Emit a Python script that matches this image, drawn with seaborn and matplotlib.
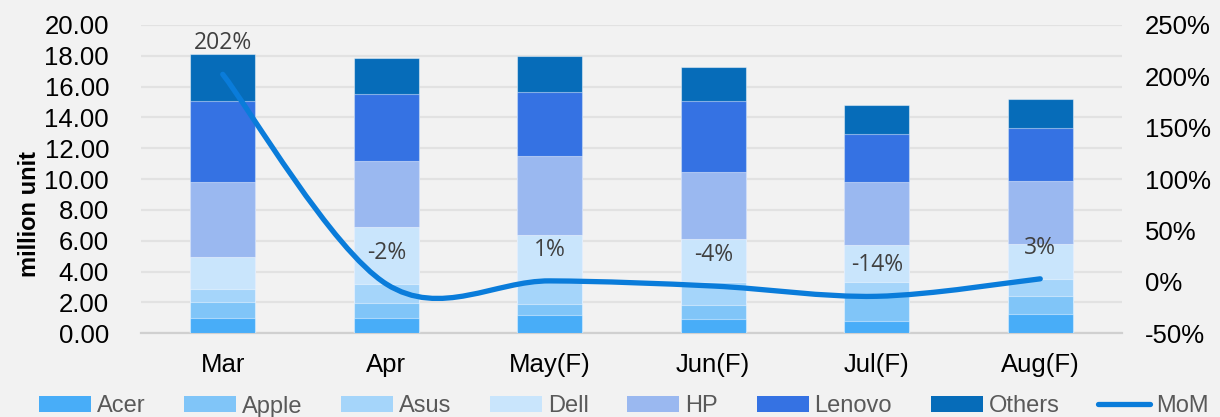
import matplotlib
matplotlib.use("Agg")
import matplotlib.pyplot as plt
import seaborn as sns
import numpy as np
import pandas as pd
from matplotlib.path import Path
from matplotlib.patches import PathPatch, Patch
from matplotlib.lines import Line2D
from matplotlib import font_manager
from matplotlib.ticker import FuncFormatter, MultipleLocator

# ---------------- data ----------------
months = ["Mar", "Apr", "May(F)", "Jun(F)", "Jul(F)", "Aug(F)"]
brands = ["Acer", "Apple", "Asus", "Dell", "HP", "Lenovo", "Others"]
acer   = [1.02, 1.02, 1.21, 0.93, 0.82, 1.28]
apple  = [1.01, 0.97, 0.69, 0.91, 1.62, 1.14]
asus   = [0.87, 1.19, 1.45, 1.51, 0.91, 1.10]
dell   = [2.07, 3.74, 3.03, 2.75, 2.38, 2.25]
hp     = [4.85, 4.26, 5.12, 4.36, 4.09, 4.11]
lenovo = [5.23, 4.32, 4.13, 4.59, 3.09, 3.42]
others = [3.07, 2.34, 2.36, 2.25, 1.90, 1.92]
mom    = [2.02, -0.02, 0.01, -0.04, -0.14, 0.03]
mom_name = "MoM"

colors = ["#48ADF8", "#80C5F8", "#A5D5FA", "#C9E5FC", "#9AB8F0", "#3572E3", "#066CB9"]
line_color = "#0A7CDA"
bg = "#F2F2F2"

# ---------------- fonts ----------------
def has_font(name):
    try:
        font_manager.findfont(name, fallback_to_default=False)
        return True
    except Exception:
        return False

tick_font = "Liberation Sans" if has_font("Liberation Sans") else "DejaVu Sans"
label_font = "Open Sans" if has_font("Open Sans") else tick_font
legend_font = tick_font
legend_size = 17

sns.set_theme(style="white")
plt.rcParams["font.family"] = [tick_font, "DejaVu Sans"]
plt.rcParams["figure.facecolor"] = bg
plt.rcParams["axes.facecolor"] = bg

df = pd.DataFrame({"month": months, "Acer": acer, "Apple": apple, "Asus": asus,
                   "Dell": dell, "HP": hp, "Lenovo": lenovo, "Others": others})
cum = df[brands].cumsum(axis=1)

fig = plt.figure(figsize=(12.2, 4.17), dpi=100)
ax = fig.add_axes([141/1220, 1 - 333.3/417, 981/1220, 308.3/417])
ax.set_facecolor(bg)

# stacked bars via cumulative layers (tallest first)
for b, c in reversed(list(zip(brands, colors))):
    sns.barplot(x=df["month"], y=cum[b], color=c, width=0.4, saturation=1,
                edgecolor=(1, 1, 1, 0.45), linewidth=0.8, ax=ax, zorder=3)

ax.set_ylim(0, 20)
ax.yaxis.set_major_locator(MultipleLocator(2))
ax.yaxis.set_major_formatter(FuncFormatter(lambda v, p: f"{v:.2f}"))
ax.set_xlim(-0.5, 5.5)
ax.grid(axis="y", color="#E2E2E2", linewidth=1.6, zorder=0)
ax.set_axisbelow(True)
for s in ["left", "right", "top"]:
    ax.spines[s].set_visible(False)
ax.spines["bottom"].set_color("#D0D0D0")
ax.spines["bottom"].set_linewidth(1.6)
ax.tick_params(axis="y", length=0, pad=23, labelsize=18.5, labelcolor="black")
ax.tick_params(axis="x", length=0, pad=14, labelsize=18.5, labelcolor="black")
ax.set_xlabel("")
ax.set_ylabel("million unit", fontweight="bold", fontsize=17, color="black")
ax.yaxis.set_label_coords(-0.102, 0.387)

# secondary axis with smoothed MoM line
ax2 = ax.twinx()
ax2.set_ylim(-0.5, 2.5)
ax2.yaxis.set_major_locator(MultipleLocator(0.5))
ax2.yaxis.set_major_formatter(FuncFormatter(lambda v, p: f"{v*100:.0f}%"))
ax2.tick_params(axis="y", length=0, pad=16.5, labelsize=18.5, labelcolor="black")
for s in ["left", "right", "top", "bottom"]:
    ax2.spines[s].set_visible(False)
ax2.grid(False)

xs = np.arange(len(mom), dtype=float)
pts = np.column_stack([xs, np.asarray(mom, dtype=float)])
n = len(pts)
verts = [tuple(pts[0])]
codes = [Path.MOVETO]
for i in range(n - 1):
    p0 = pts[max(i - 1, 0)]
    p1 = pts[i]
    p2 = pts[i + 1]
    p3 = pts[min(i + 2, n - 1)]
    c1 = p1 + (p2 - p0) / 6.0
    c2 = p2 - (p3 - p1) / 6.0
    verts += [tuple(c1), tuple(c2), tuple(p2)]
    codes += [Path.CURVE4] * 3
ax2.add_patch(PathPatch(Path(verts, codes), facecolor="none", edgecolor=line_color,
                        linewidth=3.8, capstyle="round", joinstyle="round", zorder=5))

for x, v in zip(xs, mom):
    ax2.annotate(f"{round(v*100):.0f}%", (x, v), xytext=(0, 18), textcoords="offset points",
                 ha="center", va="baseline", fontsize=16.5, color="#404040",
                 family=[label_font, "DejaVu Sans"], zorder=6)

# legend
handles = [Patch(facecolor=c, edgecolor="none", label=b) for b, c in zip(brands, colors)]
handles.append(Line2D([0], [0], color=line_color, linewidth=3.8, solid_capstyle="round", label=mom_name))
fs_px = legend_size * 100 / 72
leg = fig.legend(handles=handles, loc="upper left", bbox_to_anchor=(39/1220, 1 - 395.5/417),
                 ncol=8, frameon=False, borderpad=0, borderaxespad=0,
                 handlelength=52/fs_px, handleheight=15/fs_px, handletextpad=6/fs_px,
                 columnspacing=38.5/fs_px,
                 prop={"family": [legend_font, "DejaVu Sans"], "size": legend_size})
for t in leg.get_texts():
    t.set_color("#595959")

fig.savefig("out.png", dpi=100, facecolor=bg)
